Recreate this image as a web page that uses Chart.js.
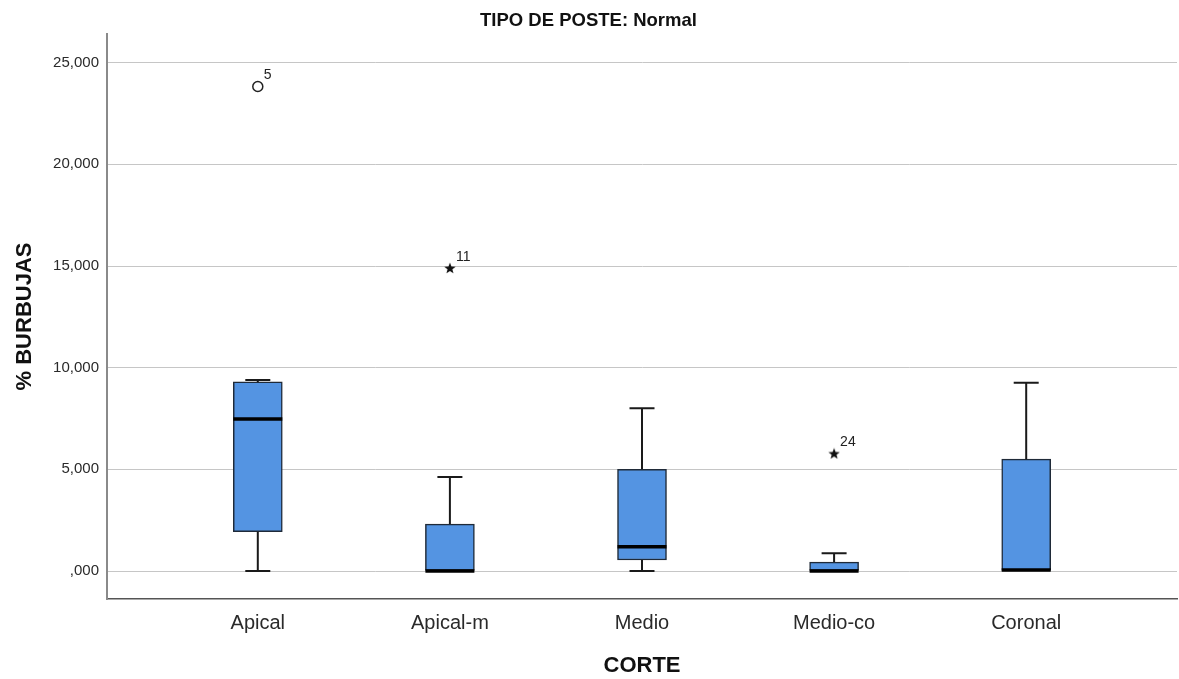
<!DOCTYPE html>
<html lang="es">
<head>
<meta charset="utf-8">
<title>TIPO DE POSTE: Normal</title>
<script src="https://cdn.jsdelivr.net/npm/chart.js@4/dist/chart.umd.min.js"></script>
<style>
  html, body { margin: 0; padding: 0; background: #ffffff; }
  #wrap { width: 1179px; height: 679px; position: relative; }
</style>
</head>
<body>
<div id="wrap"><canvas id="chart" width="1179" height="679"></canvas></div>
<script>
// Categories along the x axis
const categories = ['Apical', 'Apical-m', 'Medio', 'Medio-co', 'Coronal'];

// Five-number summaries of % BURBUJAS per CORTE (whiskers and quartiles)
const whiskerLow  = [0.00, 0.00, 0.00, 0.00, 0.00];
const quartile1   = [1.93, 0.00, 0.54, 0.00, 0.00];
const medians     = [7.48, 0.00, 1.19, 0.00, 0.05];
const quartile3   = [9.30, 2.31, 5.00, 0.44, 5.50];
const whiskerHigh = [9.39, 4.62, 8.01, 0.88, 9.26];

// Outliers: category index, value, case number
const outlierCat   = [0];
const outlierValue = [23.83];
const outlierCase  = ['5'];

// Extreme values (drawn as stars)
const extremeCat   = [1, 3];
const extremeValue = [14.90, 5.78];
const extremeCase  = ['11', '24'];

// Y axis tick values and their labels (comma decimal separator)
const yTickValues = [0, 5, 10, 15, 20, 25];
const yTickLabels = [',000', '5,000', '10,000', '15,000', '20,000', '25,000'];

const FONT = '"Liberation Sans", Arial, Helvetica, sans-serif';
const BOX_COLOR = '#5494e2';

// Small filled five-pointed star used as the point style for extreme values
function makeStar(size, color) {
  const c = document.createElement('canvas');
  c.width = size; c.height = size;
  const g = c.getContext('2d');
  const cx = size / 2, cy = size / 2 + 0.5;
  const ro = size / 2, ri = ro * 0.42;
  g.beginPath();
  for (let i = 0; i < 10; i++) {
    const r = i % 2 === 0 ? ro : ri;
    const a = -Math.PI / 2 + i * Math.PI / 5;
    const px = cx + r * Math.cos(a), py = cy + r * Math.sin(a);
    if (i === 0) g.moveTo(px, py); else g.lineTo(px, py);
  }
  g.closePath();
  g.fillStyle = color;
  g.fill();
  return c;
}
const starImg = makeStar(12, '#111111');

// Whiskers, caps and median lines drawn on top of the boxes
const boxDetails = {
  id: 'boxDetails',
  afterDatasetsDraw(chart) {
    const { ctx, scales: { x, y } } = chart;
    const boxMeta = chart.getDatasetMeta(0);
    ctx.save();
    categories.forEach((c, i) => {
      const cx = x.getPixelForValue(i);
      const bar = boxMeta.data[i];
      const half = bar ? bar.width / 2 : 24;
      const cap = 12.5;
      ctx.strokeStyle = '#1a1a1a';
      ctx.lineWidth = 2;
      // upper whisker
      if (whiskerHigh[i] > quartile3[i]) {
        const y1 = y.getPixelForValue(quartile3[i]);
        const y2 = y.getPixelForValue(whiskerHigh[i]);
        ctx.beginPath();
        ctx.moveTo(cx, y1); ctx.lineTo(cx, y2);
        ctx.moveTo(cx - cap, y2); ctx.lineTo(cx + cap, y2);
        ctx.stroke();
      }
      // lower whisker
      if (whiskerLow[i] < quartile1[i]) {
        const y1 = y.getPixelForValue(quartile1[i]);
        const y2 = y.getPixelForValue(whiskerLow[i]);
        ctx.beginPath();
        ctx.moveTo(cx, y1); ctx.lineTo(cx, y2);
        ctx.moveTo(cx - cap, y2); ctx.lineTo(cx + cap, y2);
        ctx.stroke();
      }
      // median
      const ym = y.getPixelForValue(medians[i]);
      ctx.lineWidth = 3.5;
      ctx.strokeStyle = '#000000';
      ctx.beginPath();
      ctx.moveTo(cx - half, ym); ctx.lineTo(cx + half, ym);
      ctx.stroke();
    });
    ctx.restore();
  }
};

// Case numbers next to outliers and extreme values
const caseLabels = {
  id: 'caseLabels',
  afterDatasetsDraw(chart) {
    const { ctx } = chart;
    ctx.save();
    ctx.font = '14px ' + FONT;
    ctx.fillStyle = '#222222';
    ctx.textAlign = 'left';
    ctx.textBaseline = 'middle';
    chart.data.datasets.forEach((ds, di) => {
      if (!ds.caseIds) return;
      const meta = chart.getDatasetMeta(di);
      meta.data.forEach((pt, k) => {
        ctx.fillText(ds.caseIds[k], pt.x + 6, pt.y - 11);
      });
    });
    ctx.restore();
  }
};

new Chart(document.getElementById('chart'), {
  type: 'bar',
  data: {
    datasets: [
      {
        label: 'Caja',
        data: categories.map((c, i) => ({ x: i, y: [quartile1[i], quartile3[i]] })),
        backgroundColor: BOX_COLOR,
        borderColor: '#1f2a38',
        borderWidth: 1.5,
        borderSkipped: false,
        barThickness: 49,
        order: 2
      },
      {
        type: 'scatter',
        label: 'Atípicos',
        data: outlierCat.map((c, k) => ({ x: c, y: outlierValue[k] })),
        caseIds: outlierCase,
        pointStyle: 'circle',
        pointRadius: 5,
        pointBorderWidth: 1.5,
        pointBorderColor: '#222222',
        pointBackgroundColor: 'rgba(255,255,255,0)',
        order: 1
      },
      {
        type: 'scatter',
        label: 'Extremos',
        data: extremeCat.map((c, k) => ({ x: c, y: extremeValue[k] })),
        caseIds: extremeCase,
        pointStyle: starImg,
        order: 1
      }
    ]
  },
  options: {
    responsive: false,
    animation: false,
    events: [],
    layout: { autoPadding: false, padding: { left: 0, right: 2, top: 0, bottom: 0 } },
    plugins: {
      legend: { display: false },
      tooltip: { enabled: false },
      title: {
        display: true,
        text: 'TIPO DE POSTE: Normal',
        color: '#111111',
        font: { family: FONT, size: 18.5, weight: 'bold' },
        padding: { top: 9.5, bottom: 2.3 }
      }
    },
    scales: {
      x: {
        type: 'linear',
        min: -0.785,
        max: 4.785,
        offset: false,
        grid: { display: false, drawTicks: false },
        border: { display: true, color: '#555555', width: 1.5 },
        afterBuildTicks(scale) {
          scale.ticks = categories.map((c, i) => ({ value: i }));
        },
        afterFit(scale) {
          scale.height = 80;
          scale.paddingLeft = 0;
          scale.paddingRight = 0;
        },
        ticks: {
          autoSkip: false,
          maxRotation: 0,
          padding: 12,
          color: '#2a2a2a',
          font: { family: FONT, size: 20 },
          callback: (v) => categories[v]
        },
        title: {
          display: true,
          text: 'CORTE',
          color: '#111111',
          font: { family: FONT, size: 22, weight: 'bold' },
          padding: { top: 0, bottom: 0 }
        }
      },
      y: {
        type: 'linear',
        min: -1.376,
        max: 26.41,
        grid: { color: '#c6c6c6', lineWidth: 1, drawTicks: false },
        border: { display: true, color: '#8a8a8a', width: 2 },
        afterBuildTicks(scale) {
          scale.ticks = yTickValues.map(v => ({ value: v }));
        },
        afterFit(scale) {
          scale.width = 107;
          scale.paddingTop = 0;
          scale.paddingBottom = 0;
        },
        ticks: {
          padding: 8,
          color: '#2a2a2a',
          font: { family: FONT, size: 15 },
          callback: (v) => yTickLabels[yTickValues.indexOf(v)]
        },
        title: {
          display: true,
          text: '% BURBUJAS',
          color: '#111111',
          font: { family: FONT, size: 22, weight: 'bold' },
          padding: { top: 12, bottom: 0 }
        }
      }
    }
  },
  plugins: [boxDetails, caseLabels]
});
</script>
</body>
</html>
